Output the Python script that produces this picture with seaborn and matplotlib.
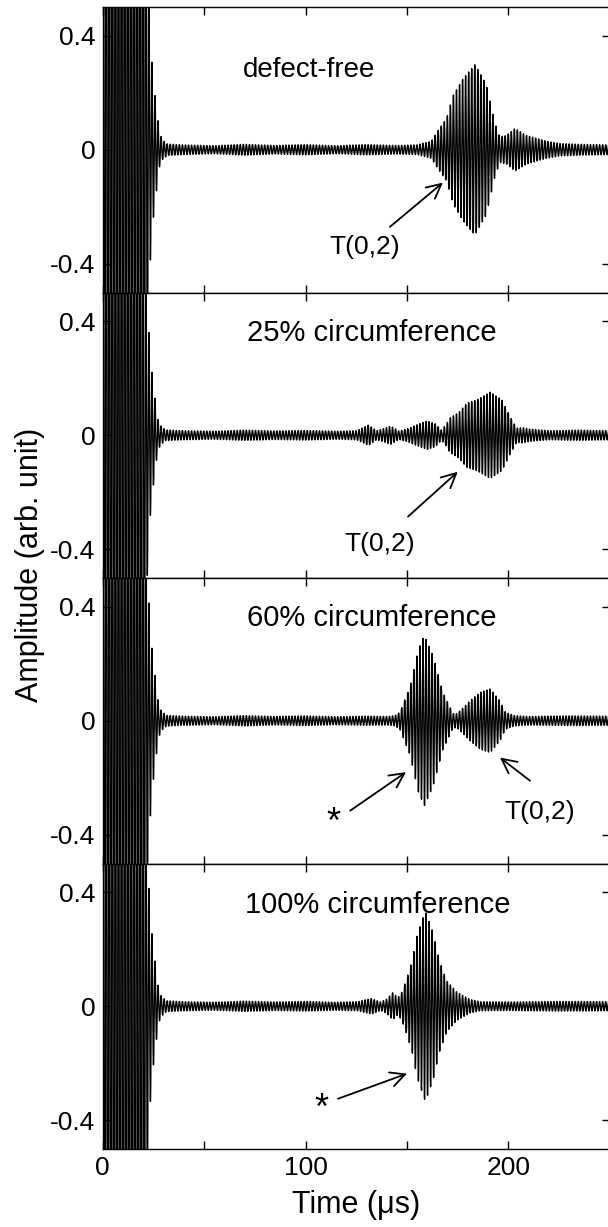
import numpy as np
import pandas as pd
import seaborn as sns
import matplotlib
matplotlib.use("Agg")
import matplotlib.pyplot as plt

sns.set_theme(style="ticks")
plt.rcParams['font.family'] = ['Liberation Sans', 'DejaVu Sans']
plt.rcParams['axes.unicode_minus'] = False
plt.rcParams['text.color'] = 'black'
plt.rcParams['axes.labelcolor'] = 'black'
plt.rcParams['xtick.color'] = 'black'
plt.rcParams['ytick.color'] = 'black'

# Received guided-wave signals: envelope knots (time in µs, amplitude)
case_titles = ["defect-free", "25% circumference", "60% circumference", "100% circumference"]

env_t_free = [0, 2, 20.5, 22, 23.3, 24.9, 26.5, 28.1, 29.5, 32, 40, 55, 70, 85, 100, 115, 130,
              145, 155, 162, 165, 169.5, 172.7, 177.6, 183.5, 189, 193.3, 195.7, 199, 203.2,
              208.9, 218.8, 225, 235, 250]
env_a_free = [0.9, 2.5, 2.5, 0.9, 0.42, 0.25, 0.15, 0.06, 0.035, 0.02, 0.017, 0.014, 0.019,
              0.015, 0.018, 0.014, 0.018, 0.015, 0.017, 0.03, 0.064, 0.11, 0.19, 0.25, 0.30,
              0.23, 0.095, 0.045, 0.05, 0.075, 0.05, 0.03, 0.022, 0.019, 0.017]

env_t_25 = [0, 2, 19, 21, 22.3, 23.9, 25.5, 27.1, 28.5, 31, 40, 55, 70, 85, 100, 115, 125, 127,
            131, 135, 138, 142, 146, 150, 156, 160, 164, 167, 169.5, 171, 175.5, 179.5, 184.5,
            191, 196.7, 200.8, 204, 207, 210, 220, 235, 250]
env_a_25 = [0.9, 2.5, 2.5, 0.9, 0.42, 0.25, 0.15, 0.06, 0.035, 0.019, 0.016, 0.014, 0.018,
            0.015, 0.017, 0.014, 0.016, 0.022, 0.036, 0.016, 0.022, 0.032, 0.015, 0.022, 0.04,
            0.05, 0.04, 0.018, 0.04, 0.06, 0.08, 0.113, 0.125, 0.152, 0.125, 0.066, 0.025,
            0.027, 0.022, 0.016, 0.018, 0.016]

env_t_60 = [0, 2, 19.5, 21.5, 22.8, 24.4, 26, 27.6, 29, 31.5, 40, 55, 70, 85, 100, 115, 130,
            140, 144, 146.5, 151.5, 155.6, 158.5, 162.8, 167.7, 172.7, 174.5, 177.6, 181, 186,
            191, 195.8, 198.5, 203, 210, 230, 250]
env_a_60 = [0.9, 2.5, 2.5, 0.9, 0.42, 0.25, 0.15, 0.06, 0.035, 0.019, 0.016, 0.014, 0.018,
            0.015, 0.017, 0.014, 0.016, 0.015, 0.018, 0.03, 0.12, 0.25, 0.30, 0.23, 0.10,
            0.025, 0.025, 0.045, 0.07, 0.1, 0.112, 0.07, 0.03, 0.018, 0.015, 0.017, 0.016]

env_t_100 = [0, 2, 19.5, 21.5, 22.8, 24.4, 26, 27.6, 29, 31.5, 40, 55, 70, 85, 100, 115, 126,
             129, 132.5, 137, 140, 143, 145.5, 147.5, 150, 152.5, 155, 159, 162.8, 166, 169.5,
             174.5, 181, 186, 200, 225, 250]
env_a_100 = [0.9, 2.5, 2.5, 0.9, 0.42, 0.25, 0.15, 0.06, 0.035, 0.019, 0.016, 0.014, 0.018,
             0.015, 0.017, 0.014, 0.016, 0.022, 0.027, 0.015, 0.025, 0.048, 0.03, 0.05, 0.1,
             0.16, 0.25, 0.335, 0.26, 0.16, 0.09, 0.05, 0.024, 0.016, 0.015, 0.017, 0.016]

envelopes = [(env_t_free, env_a_free), (env_t_25, env_a_25),
             (env_t_60, env_a_60), (env_t_100, env_a_100)]

carrier_period = 1.5   # µs
time_step = 0.05       # µs
time = np.arange(0, 250 + time_step, time_step)

x_ticks = [0, 50, 100, 150, 200, 250]
x_ticklabels = ["0", "", "100", "", "200", ""]
y_ticks = [-0.4, 0, 0.4]
y_ticklabels = ["-0.4", "0", "0.4"]

# Annotations: (text, text position, arrow tail, arrow tip) in data coordinates
annotations = [
    [("T(0,2)", (129, -0.34), (141.6, -0.27), (167.7, -0.115))],
    [("T(0,2)", (136.7, -0.38), (150.5, -0.285), (175, -0.128))],
    [("*", (113.5, -0.36), (122, -0.315), (149.5, -0.18)),
     ("T(0,2)", (215.5, -0.32), (210.6, -0.21), (195.8, -0.129))],
    [("*", (108, -0.36), (116, -0.324), (150, -0.236))],
]
# Panel captions: (x, y, horizontal alignment, font size)
title_pos = [(102, 0.28, "center", 20), (71.2, 0.358, "left", 21),
             (71.2, 0.36, "left", 21), (70.2, 0.355, "left", 21)]

W_PX, H_PX = 608, 1227
fig = plt.figure(figsize=(W_PX / 100, H_PX / 100), dpi=100)
fig.patch.set_facecolor("white")

left_px, width_px = 102.5, 507.5
panel_h = 285.5
tops = [7, 292.5, 578, 863.5]

for i, top in enumerate(tops):
    ax = fig.add_axes([left_px / W_PX, 1 - (top + panel_h) / H_PX,
                       width_px / W_PX, panel_h / H_PX])
    kt, ka = envelopes[i]
    env = np.interp(time, kt, ka)
    signal = env * np.sin(2 * np.pi * time / carrier_period)
    df = pd.DataFrame({"time": time, "amplitude": signal})
    sns.lineplot(data=df, x="time", y="amplitude", ax=ax, color="black",
                 linewidth=1.0, estimator=None, sort=False)
    ax.set_xlim(0, 250)
    ax.set_ylim(-0.5, 0.5)
    ax.set_facecolor("white")
    ax.set_xticks(x_ticks)
    ax.set_yticks(y_ticks)
    ax.set_yticklabels(y_ticklabels)
    if i == 3:
        ax.set_xticklabels(x_ticklabels)
    else:
        ax.set_xticklabels([])
    ax.set_xlabel("")
    ax.set_ylabel("")
    ax.tick_params(direction="in", length=6, width=1, top=True, right=True,
                   labelsize=19, colors="black", pad=5)
    for sp in ax.spines.values():
        sp.set_visible(True)
        sp.set_linewidth(1.0)
        sp.set_color("black")

    tx, ty, tha, tfs = title_pos[i]
    ax.text(tx, ty, case_titles[i], fontsize=tfs, ha=tha, va="center")
    for label, tpos, tail, tip in annotations[i]:
        fs = 26 if label == "*" else 19
        ax.text(tpos[0], tpos[1], label, fontsize=fs, ha="center", va="center")
        ax.annotate("", xy=tip, xytext=tail,
                    arrowprops=dict(arrowstyle="->", lw=1.3, color="black",
                                    mutation_scale=26, shrinkA=0, shrinkB=0))

fig.text(30 / W_PX, 1 - 565 / H_PX, "Amplitude (arb. unit)", rotation=90,
         fontsize=22, ha="center", va="center")
fig.text(356 / W_PX, 1 - 1205 / H_PX, "Time (\u03bcs)", fontsize=22,
         ha="center", va="center")

fig.savefig("out.png", dpi=100, facecolor="white")
